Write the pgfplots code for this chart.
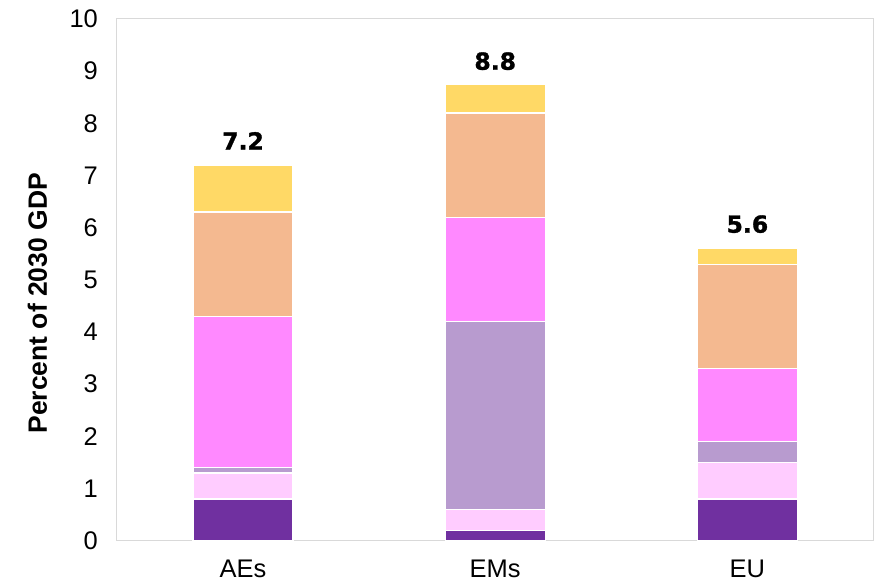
\documentclass[border=0pt]{standalone}
\usepackage{pgfplots}
\pgfplotsset{compat=1.18}
\usepackage{fontspec}
\setmainfont{Liberation Sans}
\newfontfamily\labfont[BoldFeatures={FakeBold=1.3}]{DejaVu Sans}
\definecolor{cDark}{HTML}{7030A0}
\definecolor{cPink}{HTML}{FFCCFF}
\definecolor{cLav}{HTML}{B89BCF}
\definecolor{cMag}{HTML}{FF89FF}
\definecolor{cPeach}{HTML}{F4B990}
\definecolor{cYel}{HTML}{FFD966}
\definecolor{cAxis}{HTML}{D9D9D9}
\begin{document}
\begin{tikzpicture}
\begin{axis}[
  at={(0pt,0pt)}, anchor=south west,
  scale only axis, width=757pt, height=522pt,
  ybar stacked, bar width=100pt,
  xmin=-0.5, xmax=2.5, ymin=0, ymax=10,
  xtick={0,1,2}, xticklabels={AEs,EMs,EU},
  ytick={0,1,...,10},
  major tick length=0pt,
  axis line style={cAxis, line width=1pt},
  tick label style={font=\fontsize{25.5}{28}\selectfont},
  /pgf/number format/assume math mode=true,
  yticklabel style={xshift=-15.5pt},
  xticklabel style={yshift=-15.5pt},
  ylabel={\textbf{Percent of 2030 GDP}},
  ylabel style={font=\fontsize{26.5}{30}\selectfont, at={(axis description cs:-0.105,0.455)}, anchor=center},
  every axis plot/.append style={draw=white, line width=1.3pt},
  clip=false,
]
\addplot[fill=cDark] coordinates {(0,0.8) (1,0.2) (2,0.8)};
\addplot[fill=cPink] coordinates {(0,0.5) (1,0.4) (2,0.7)};
\addplot[fill=cLav] coordinates {(0,0.1) (1,3.6) (2,0.4)};
\addplot[fill=cMag] coordinates {(0,2.9) (1,2.0) (2,1.4)};
\addplot[fill=cPeach] coordinates {(0,2.0) (1,2.0) (2,2.0)};
\addplot[fill=cYel] coordinates {(0,0.9) (1,0.55) (2,0.3)};
\node[font=\fontsize{23.5}{27}\labfont\bfseries, anchor=south] at (axis cs:0,7.2) [yshift=12pt] {7.2};
\node[font=\fontsize{23.5}{27}\labfont\bfseries, anchor=south] at (axis cs:1,8.8) [yshift=8pt] {8.8};
\node[font=\fontsize{23.5}{27}\labfont\bfseries, anchor=south] at (axis cs:2,5.6) [yshift=12pt] {5.6};
\end{axis}
\useasboundingbox (-117pt,-44pt) rectangle (757pt,541pt);
\end{tikzpicture}
\end{document}
